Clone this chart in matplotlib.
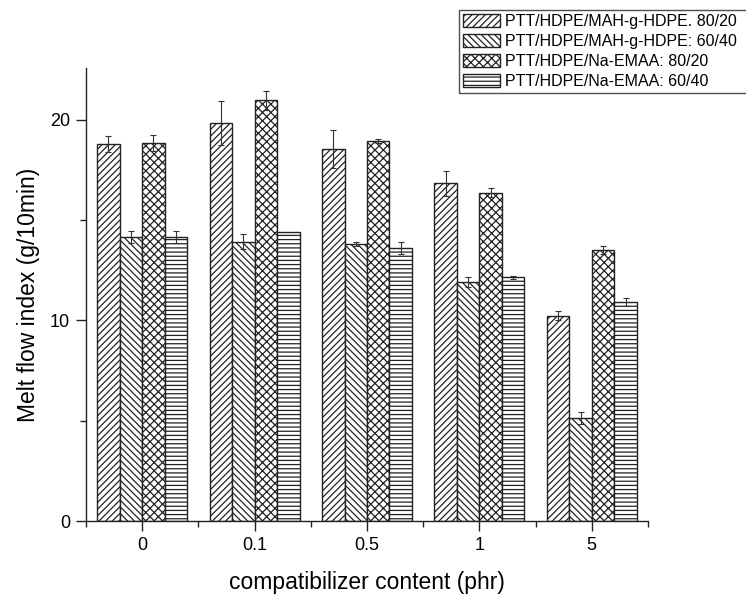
import matplotlib
matplotlib.use("Agg")
import matplotlib.pyplot as plt
import numpy as np

plt.rcParams['font.family'] = ['Liberation Sans', 'DejaVu Sans']
plt.rcParams['hatch.linewidth'] = 0.9
plt.rcParams['hatch.color'] = '#444444'

categories = ['0', '0.1', '0.5', '1', '5']
series_names = ['PTT/HDPE/MAH-g-HDPE. 80/20',
                'PTT/HDPE/MAH-g-HDPE: 60/40',
                'PTT/HDPE/Na-EMAA: 80/20',
                'PTT/HDPE/Na-EMAA: 60/40']
mah_80_20 = [18.8, 19.83, 18.54, 16.82, 10.22]
mah_80_20_err = [0.4, 1.1, 0.93, 0.63, 0.22]
mah_60_40 = [14.17, 13.92, 13.8, 11.93, 5.14]
mah_60_40_err = [0.3, 0.38, 0.1, 0.25, 0.3]
na_80_20 = [18.84, 20.96, 18.94, 16.35, 13.5]
na_80_20_err = [0.4, 0.47, 0.1, 0.22, 0.2]
na_60_40 = [14.17, 14.42, 13.59, 12.15, 10.89]
na_60_40_err = [0.3, 0.0, 0.31, 0.08, 0.2]

values = [mah_80_20, mah_60_40, na_80_20, na_60_40]
errors = [mah_80_20_err, mah_60_40_err, na_80_20_err, na_60_40_err]
hatches = ['/////', '\\\\\\\\\\', 'xxxx', '----']

W, H = 746, 599
fig = plt.figure(figsize=(W / 100, H / 100), dpi=100)
left, right, top, bottom = 86, 648, 68, 521
ax = fig.add_axes([left / W, 1 - bottom / H, (right - left) / W, (bottom - top) / H])

x = np.arange(len(categories))
width = 0.2
offsets = [-0.3, -0.1, 0.1, 0.3]
handles = []
for vals, errs, h, off, name in zip(values, errors, hatches, offsets, series_names):
    b = ax.bar(x + off, vals, width, facecolor='white', edgecolor='#222222',
               linewidth=1.0, hatch=h, label=name, zorder=2)
    handles.append(b)
    e = np.array(errs)
    mask = e > 0
    ax.errorbar((x + off)[mask], np.array(vals)[mask], yerr=e[mask], fmt='none',
                ecolor='#333333', elinewidth=0.8, capsize=2.5, capthick=0.8, zorder=3)

ax.set_xlim(-0.5, 4.5)
ax.set_ylim(0, 22.57)
ax.set_xticks(x)
ax.set_xticklabels(categories)
ax.set_xticks(np.arange(-0.5, 4.6, 1.0), minor=True)
ax.set_yticks([0, 10, 20])
ax.set_yticks([5, 15], minor=True)
ax.spines['top'].set_visible(False)
ax.spines['right'].set_visible(False)
for s in ['left', 'bottom']:
    ax.spines[s].set_linewidth(1.0)
    ax.spines[s].set_color('#222222')
ax.tick_params(axis='both', which='major', direction='out', length=7.5, width=1.0,
               labelsize=13, pad=4, color='#222222')
ax.tick_params(axis='both', which='minor', direction='out', length=4, width=1.0,
               color='#222222')
ax.set_xlabel('compatibilizer content (phr)', fontsize=16.5, labelpad=12)
ax.set_ylabel('Melt flow index (g/10min)', fontsize=16.5, labelpad=7)

leg = fig.legend(handles=handles, labels=series_names, loc='upper left',
                 bbox_to_anchor=(459 / W, 1 - 10 / H, 300 / W, 0), mode='expand',
                 fontsize=11.5,
                 frameon=True, fancybox=False, edgecolor='#222222',
                 handlelength=2.3, handleheight=0.9, handletextpad=0.35,
                 labelspacing=0.3, borderpad=0.25, borderaxespad=0)
leg.get_frame().set_linewidth(1.0)

fig.savefig('out.png', dpi=100)
